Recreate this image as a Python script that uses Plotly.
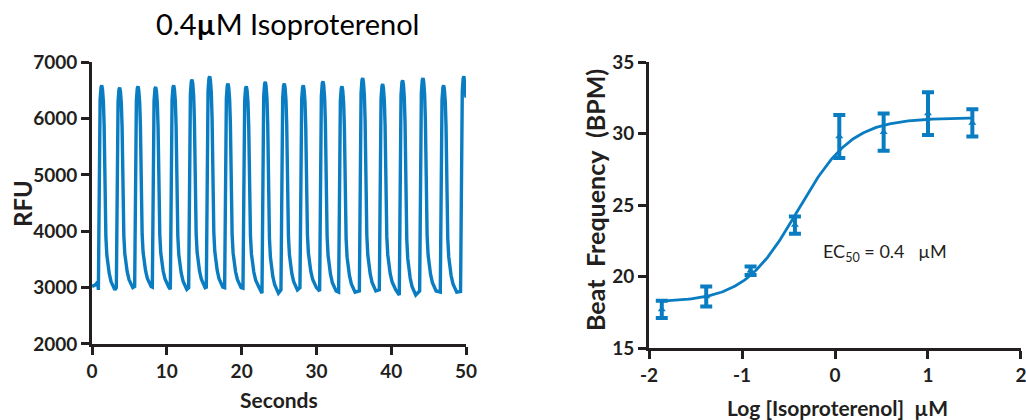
import plotly.graph_objects as go

# ---------------- Left panel: calcium trace -------------
TITLE = "0.4<b>µ</b>M Isoproterenol"
LEAD_T = [0.0, 0.45, 0.75, 0.82]          # start of recording before first beat
LEAD_V = [3020, 3050, 3100, 2960]
PEAK_T = [1.30, 3.70, 6.15, 8.51, 10.92, 13.37, 15.73, 18.18, 20.63, 23.17,
          25.71, 28.25, 30.88, 33.42, 36.19, 38.86, 41.53, 44.25, 47.01, 49.72]
PEAK_V = [6590, 6550, 6570, 6560, 6590, 6690, 6750, 6620, 6570, 6650,
          6620, 6590, 6660, 6570, 6720, 6610, 6680, 6720, 6590, 6750]
TROUGH_V = [2960, 3000, 3020, 3010, 2970, 3000, 3010, 3000, 2990, 2900,
            2960, 3000, 2940, 2920, 2940, 2960, 2870, 2940, 2920, 2930]
# one beat's shape: time from peak (s), fraction of amplitude
SHAPE_DT = [-0.45, -0.38, -0.32, -0.22, -0.10, 0.0, 0.10, 0.22, 0.32, 0.40, 0.46,
            0.55, 0.68, 0.85, 1.00, 1.25, 1.50, 1.75]
SHAPE_FR = [0.0, 0.30, 0.75, 0.93, 0.99, 1.0, 0.98, 0.92, 0.80, 0.55, 0.38,
            0.26, 0.17, 0.11, 0.08, 0.04, 0.015, 0.0]
END_T, END_V = 50.0, 6370

# ---------------- Right panel: concentration response ---------------------------------
LOG_CONC = [-1.863, -1.385, -0.908, -0.431, 0.046, 0.523, 1.000, 1.477]
BPM_MEAN = [17.7, 18.6, 20.4, 23.6, 29.8, 30.1, 31.4, 30.75]
BPM_ERR = [0.6, 0.7, 0.3, 0.6, 1.5, 1.3, 1.5, 0.95]
# 4-parameter logistic fit shown in the figure
FIT_BOTTOM, FIT_TOP, FIT_LOGEC50, FIT_HILL = 18.2, 31.1, -0.398, 1.5

BLUE = "#0a7cc2"
AX = "#231f20"
FONT = "Lato"

# build trace
t, v = list(LEAD_T), list(LEAD_V)
n = len(PEAK_T)
for i in range(n):
    base, amp = TROUGH_V[i], PEAK_V[i] - TROUGH_V[i]
    for dt, fr in zip(SHAPE_DT, SHAPE_FR):
        if i == n - 1 and dt > 0:
            break
        tt = PEAK_T[i] + dt
        if tt <= END_T:
            t.append(tt)
            v.append(base + fr * amp)
t.append(END_T)
v.append(END_V)

# fitted curve
nfit = 200
fx = [LOG_CONC[0] + (LOG_CONC[-1] - LOG_CONC[0]) * k / (nfit - 1) for k in range(nfit)]
fy = [FIT_BOTTOM + (FIT_TOP - FIT_BOTTOM) / (1 + 10 ** ((FIT_LOGEC50 - x) * FIT_HILL)) for x in fx]

fig = go.Figure()
fig.add_trace(go.Scatter(x=t, y=v, mode="lines", line=dict(color=BLUE, width=3.4),
                         xaxis="x", yaxis="y", showlegend=False))
fig.add_trace(go.Scatter(x=fx, y=fy, mode="lines", line=dict(color=BLUE, width=2.8),
                         xaxis="x2", yaxis="y2", showlegend=False))
fig.add_trace(go.Scatter(x=LOG_CONC, y=BPM_MEAN, mode="markers",
                         marker=dict(symbol="triangle-up", size=7, color=BLUE),
                         error_y=dict(type="data", array=BPM_ERR, color=BLUE, thickness=4, width=6),
                         xaxis="x2", yaxis="y2", showlegend=False))

axis_common = dict(showline=True, linecolor=AX, linewidth=2.8, ticks="outside",
                   ticklen=8, tickwidth=2.8, tickcolor=AX, showgrid=False, zeroline=False,
                   automargin=False, ticklabeloverflow="allow",
                   tickfont=dict(family=FONT, size=19, color=AX, weight="bold"))

def label(text, x, y, size, angle=0, weight="bold", color=AX, xanchor="center"):
    return dict(text=text, x=x, y=y, xref="paper", yref="paper", xanchor=xanchor,
                yanchor="middle", showarrow=False, textangle=angle,
                font=dict(family=FONT, size=size, color=color, weight=weight))

fig.update_layout(
    width=1026, height=420, margin=dict(l=0, r=0, t=0, b=0, autoexpand=False),
    paper_bgcolor="white", plot_bgcolor="white",
    font=dict(family=FONT, color=AX),
    xaxis=dict(domain=[0.0897, 0.4542], range=[0, 50], tickvals=[0, 10, 20, 30, 40, 50],
               anchor="y", **axis_common),
    yaxis=dict(domain=[0.181, 0.852], range=[2000, 7000], tickvals=[2000, 3000, 4000, 5000, 6000, 7000],
               anchor="x", **axis_common),
    xaxis2=dict(domain=[0.6326, 0.9951], range=[-2, 2], tickvals=[-2, -1, 0, 1, 2],
                ticktext=["-2", "-1", "0", "1", "2"], anchor="y2", **axis_common),
    yaxis2=dict(domain=[0.1714, 0.852], range=[15, 35], tickvals=[15, 20, 25, 30, 35], anchor="x2",
                **axis_common),
    annotations=[
        label(TITLE, 0.28, 0.945, 29, weight="normal", color="black"),
        label("Seconds", 0.272, 0.05, 21),
        label("RFU", 0.0224, 0.5167, 24, angle=-90),
        label("Beat\u2002Frequency\u2002(BPM)", 0.58, 0.524, 25, angle=-90),
        label("Log [Isoproterenol]\u00a0\u00a0µM", 0.8158, 0.0286, 21),
        dict(text="EC<sub>50</sub> = 0.4\u00a0\u00a0 µM", x=-0.15, y=21.7, xref="x2", yref="y2",
             xanchor="left", yanchor="middle", showarrow=False,
             font=dict(family=FONT, size=18, color=AX)),
    ],
)

fig.write_html("out.html")
